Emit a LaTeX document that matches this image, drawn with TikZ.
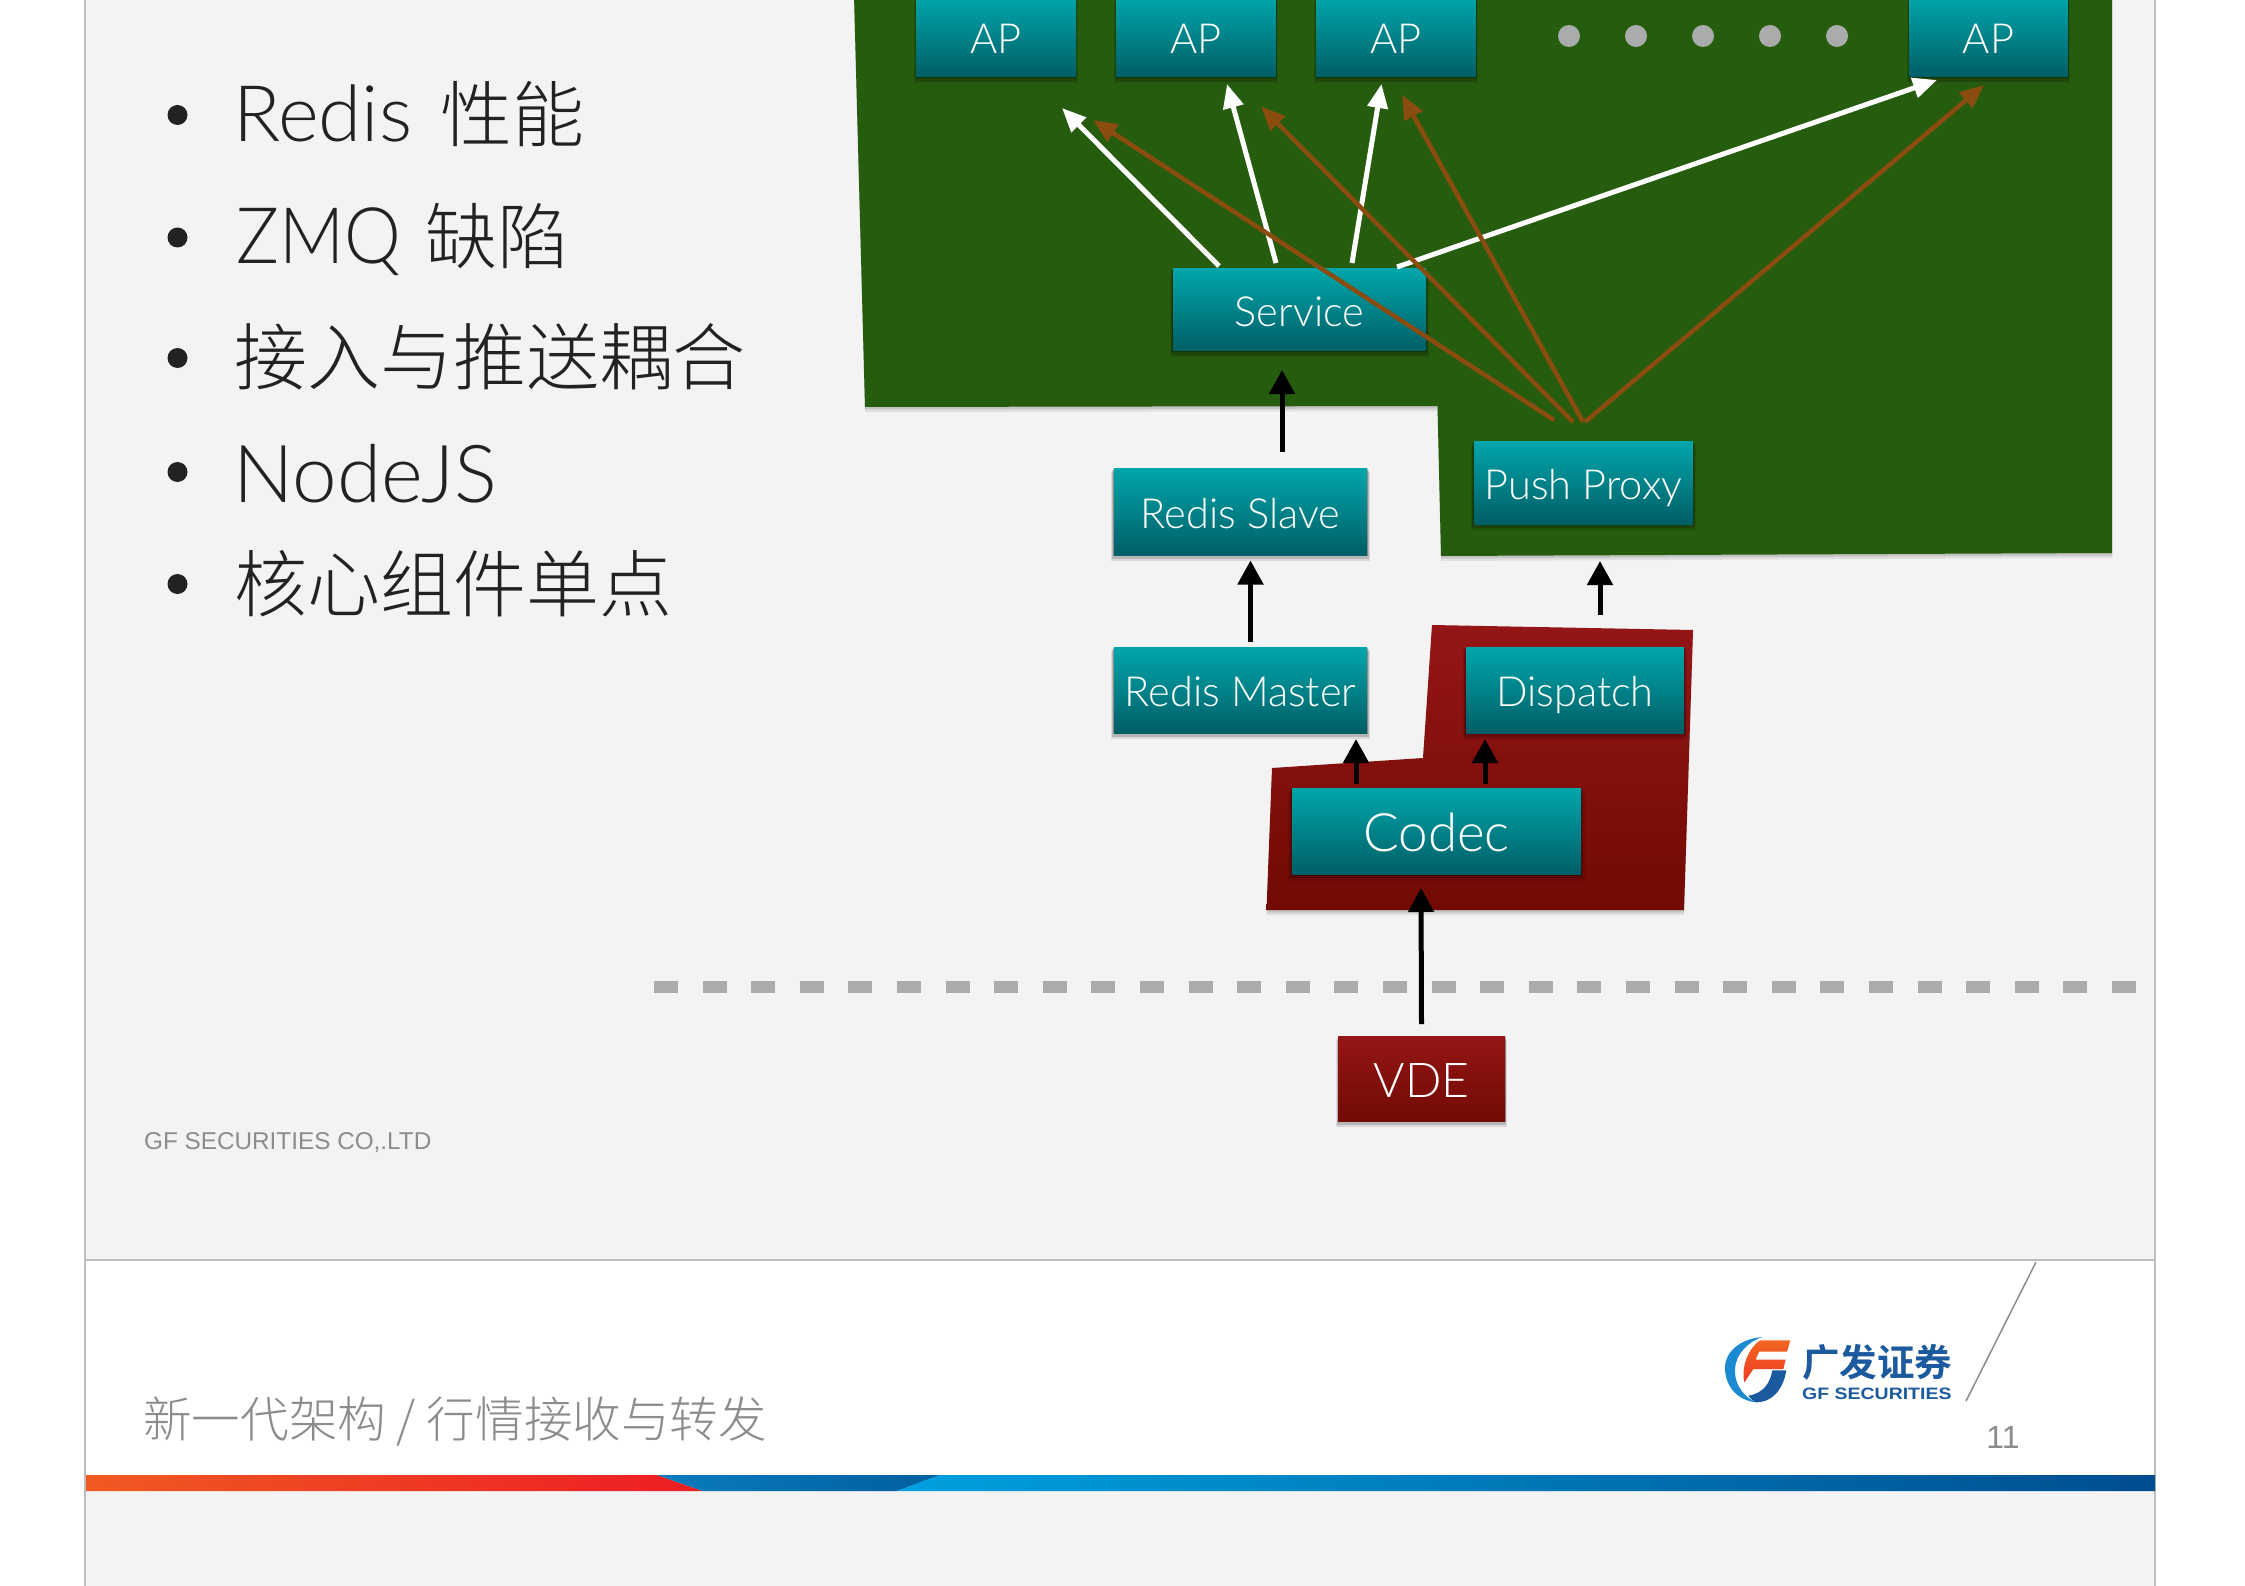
\documentclass[tikz,border=0pt]{standalone}
\usepackage{graphicx}
\usepackage{fontspec}
\setmainfont{Lato}[UprightFont=* Light,BoldFont=* Bold]
\newfontfamily\cjk{Noto Sans CJK SC}[UprightFont=* Light,BoldFont=* Bold]
\newfontfamily\helv{Liberation Sans}
\usetikzlibrary{calc,shadows,arrows.meta}
\definecolor{slidebg}{HTML}{F3F3F3}
\definecolor{greenbg}{HTML}{265C0D}
\definecolor{brownarr}{HTML}{8B4C10}
\definecolor{tealtop}{HTML}{00A6AB}
\definecolor{tealbot}{HTML}{005E66}
\definecolor{redtop}{HTML}{941616}
\definecolor{redbot}{HTML}{720A04}
\definecolor{edgegrey}{HTML}{BDBDBD}
\definecolor{dashgrey}{HTML}{A9ACAA}
\definecolor{bodytext}{HTML}{222222}
\definecolor{greytext}{HTML}{8C8C8C}
\definecolor{logoblue}{HTML}{1B5A9E}
\definecolor{logocyan}{HTML}{1C8AD0}
\definecolor{logored}{HTML}{EE3B24}
\definecolor{logoorange}{HTML}{F26522}
\definecolor{barorange}{HTML}{F05A22}
\definecolor{barred}{HTML}{ED1C24}
\definecolor{barblue}{HTML}{0A7CBE}
\definecolor{barblueb}{HTML}{005F9F}
\definecolor{barcyan}{HTML}{00A0DF}
\definecolor{bardark}{HTML}{004E8F}
\tikzset{
  softshadow/.style={
    general shadow={shadow xshift=0pt,shadow yshift=-5pt,shadow scale=1.025,opacity=.10,fill=black},
    general shadow={shadow xshift=0pt,shadow yshift=-3pt,shadow scale=1.015,opacity=.16,fill=black},
    general shadow={shadow xshift=0pt,shadow yshift=-1pt,shadow scale=1.006,opacity=.22,fill=black}},
  bgshadow/.style={
    general shadow={shadow xshift=0pt,shadow yshift=-5pt,opacity=.08,fill=black},
    general shadow={shadow xshift=0pt,shadow yshift=-2.5pt,opacity=.12,fill=black}},
  box/.style={rectangle,inner sep=0pt,outer sep=0pt,text=white,align=center,softshadow},
  tealbox/.style={box,top color=tealtop,bottom color=tealbot,font=\fontsize{41.5}{41.5}\selectfont,text height=33pt,text depth=0pt},
  redbox/.style={box,top color=redtop,bottom color=redbot,font=\fontsize{48}{48}\selectfont,text height=38pt,text depth=0pt},
  blk/.style={draw=black,line width=5pt,-{Triangle[length=24pt,width=25pt]}},
  wht/.style={draw=white,line width=5pt,-{Triangle[length=24pt,width=20pt]}},
  brn/.style={draw=brownarr,line width=4.5pt,-{Triangle[length=24pt,width=20pt]}},
  bullet/.style={circle,fill=bodytext,inner sep=0pt,minimum size=20pt},
  bodyline/.style={anchor=base west,inner sep=0pt,text=bodytext,font=\fontsize{78}{78}\selectfont},
  cjkline/.style={anchor=base west,inner sep=0pt,text=bodytext,font=\cjk\fontsize{73}{73}\selectfont},
  dot/.style={circle,fill=dashgrey,inner sep=0pt,minimum size=22pt},
}
\newcommand{\placebox}[7]{\node[#1,minimum width=#5pt-#3pt,minimum height=#6pt-#4pt] (#2) at ({(#3+#5)/2},{(#4+#6)/2}) {#7};}
\newcommand{\bodycjk}[1]{{\cjk\fontsize{72}{72}\selectfont #1}}
\begin{document}
\begin{tikzpicture}[x=1pt,y=-1pt]
\useasboundingbox (0,0) rectangle (2245,1586);
\fill[white] (0,0) rectangle (2245,1586);
% slide
\fill[slidebg] (85,0) rectangle (2155,1586);
\fill[white] (85,1260) rectangle (2155,1475);
\draw[edgegrey,line width=2pt] (85,0) -- (85,1586);
\draw[edgegrey,line width=2pt] (2155,0) -- (2155,1586);
\draw[edgegrey,line width=2pt] (85,1260) -- (2155,1260);
% colour bar
\path[left color=barorange,right color=barred] (86,1475) -- (657,1475) -- (703,1491) -- (86,1491) -- cycle;
\path[left color=barblue,right color=barblueb] (657,1475) -- (940,1475) -- (897,1491) -- (703,1491) -- cycle;
\path[left color=barcyan,right color=bardark] (940,1475) -- (2155,1475) -- (2155,1491) -- (897,1491) -- cycle;
% backgrounds
\fill[greenbg,bgshadow] (854,-5) -- (865,407) -- (1437.5,406) -- (1441,556) -- (2112,553) -- (2112,-5) -- cycle;
\path[top color=redtop,bottom color=redbot,bgshadow] (1432,625) -- (1693,630) -- (1684,910) -- (1266.5,910) -- (1272,768) -- (1423,758) -- cycle;
% dashed separator
\draw[dashgrey,line width=12pt,dash pattern=on 24pt off 24.6pt] (654,986.5) -- (2138,986.5);
% bullets
\node[bullet] (b1) at (177.5,115) {};
\node[bullet] (b2) at (177.5,237.5) {};
\node[bullet] (b3) at (177.5,358) {};
\node[bullet] (b4) at (177.5,472) {};
\node[bullet] (b5) at (177.5,584) {};
\node[bodyline] (t1) at (233,142) {Redis\hspace{7pt} \bodycjk{性能}};
\node[bodyline] (t2) at (236,264) {\scalebox{.92}[1]{ZMQ}\hspace{3pt} \bodycjk{缺陷}};
\node[cjkline] (t3) at (234,384) {接入与推送耦合};
\node[bodyline,font=\fontsize{80}{80}\selectfont] (t4) at (233,502) {NodeJS};
\node[cjkline] (t5) at (234,611) {核心组件单点};
% boxes
\placebox{tealbox}{ap1}{916}{-3}{1076}{77}{AP}
\placebox{tealbox}{ap2}{1116}{-3}{1276}{77}{AP}
\placebox{tealbox}{ap3}{1316}{-3}{1476}{77}{AP}
\placebox{tealbox}{ap4}{1909}{-3}{2068}{77}{AP}
\node[dot] (d1) at (1569,36) {};
\node[dot] (d2) at (1636,36) {};
\node[dot] (d3) at (1703,36) {};
\node[dot] (d4) at (1770,36) {};
\node[dot] (d5) at (1837,36) {};
\placebox{tealbox}{service}{1173}{269}{1426}{351}{Service}
\placebox{tealbox}{push}{1474}{441}{1693}{524}{Push Proxy}
\placebox{tealbox}{rslave}{1114}{468}{1367}{555}{Redis Slave}
\placebox{tealbox}{rmaster}{1114}{647}{1367}{733}{Redis Master}
\placebox{tealbox}{dispatch}{1466}{647}{1684}{733}{Dispatch}
\placebox{tealbox,font=\fontsize{53}{53}\selectfont,text height=41pt}{codec}{1292}{788}{1581}{874.5}{Codec}
\placebox{redbox}{vde}{1338}{1036}{1505}{1121}{VDE}
% black arrows
\draw[blk] ($(vde.north)+(0,-12)$) -- ($(codec.south)+(-15.5,13.5)$);
\draw[blk] ($(codec.north)+(-80.5,-4)$) -- ($(rmaster.south)+(115.5,6)$);
\draw[blk] ($(codec.north)+(48.5,-4)$) -- ($(dispatch.south)+(-90,6)$);
\draw[blk] ($(rmaster.north)+(10,-5)$) -- ($(rslave.south)+(10,5.5)$);
\draw[blk] ($(dispatch.north)+(25,-32)$) -- ($(push.south)+(16.5,37)$);
\draw[blk] ($(rslave.north)+(41.5,-16)$) -- ($(service.south)+(-17.5,19)$);
% white arrows
\draw[wht] ($(service.north)+(-80.5,-3)$) -- ($(ap1.south)+(66,31)$);
\draw[wht] ($(service.north)+(-23.5,-6)$) -- ($(ap2.south)+(31,7)$);
\draw[wht] ($(service.north)+(52.5,-6)$) -- ($(ap3.south)+(-14.5,7)$);
\draw[wht] ($(service.north)+(97.5,-2)$) -- ($(ap4.south)+(-51.5,3)$);
% brown arrows
\draw[brn] ($(push.north)+(-29.5,-21)$) -- ($(ap1.south)+(97,43)$);
\draw[brn] ($(push.north)+(-10.5,-19)$) -- ($(ap2.south)+(65,29.5)$);
\draw[brn] ($(push.north)+(-0.5,-19)$) -- ($(ap3.south)+(6,18)$);
\draw[brn] ($(push.north)+(1.5,-19)$) -- ($(ap4.south)+(-4.5,8)$);
% footer
\node[anchor=base west,inner sep=0pt,text=greytext,font=\helv\fontsize{24.3}{24.3}\selectfont] (company) at (144,1149) {GF SECURITIES CO,.LTD};
\node[anchor=base west,inner sep=0pt,text=greytext,font=\cjk\fontsize{48.6}{48.6}\selectfont] (title) at (143,1437) {新一代架构 / 行情接收与转发};
\node[text=greytext,inner sep=0pt,font=\helv\fontsize{32}{32}\selectfont] (pageno) at (2003,1437) {11};
\draw[black!45,line width=1.5pt] (2036,1262) -- (1966,1401);
% logo
\begin{scope}[shift={(1715,1325)},x=.3333pt,y=-.3333pt]
\fill[logocyan] (142,36) .. controls (70,42) and (28,85) .. (30,132) .. controls (32,190) and (72,226) .. (122,232) .. controls (90,215) and (58,185) .. (60,132) .. controls (62,90) and (95,52) .. (142,36) -- cycle;
\fill[logoblue] (122,232) .. controls (175,232) and (205,190) .. (214,136) -- (172,136) .. controls (165,175) and (145,205) .. (100,212) .. controls (106,220) and (114,228) .. (122,232) -- cycle;
\path[top color=logoorange,bottom color=logored] (135,46) -- (226,46) -- (216,80) -- (132,80) -- (122,104) -- (212,104) -- (205,132) -- (115,132) -- (88,172) .. controls (78,125) and (100,70) .. (135,46) -- cycle;
\end{scope}
\node[anchor=base west,inner sep=0pt,text=logoblue,font=\cjk\bfseries\fontsize{37.5}{37.5}\selectfont] (logocn) at (1802,1376) {广发证券};
\node[anchor=base west,inner sep=0pt,text=logoblue,font=\helv\bfseries\fontsize{16.5}{16.5}\selectfont] (logoen) at (1802,1399.5) {\scalebox{1.18}[1]{GF SECURITIES}};
\end{tikzpicture}
\end{document}
